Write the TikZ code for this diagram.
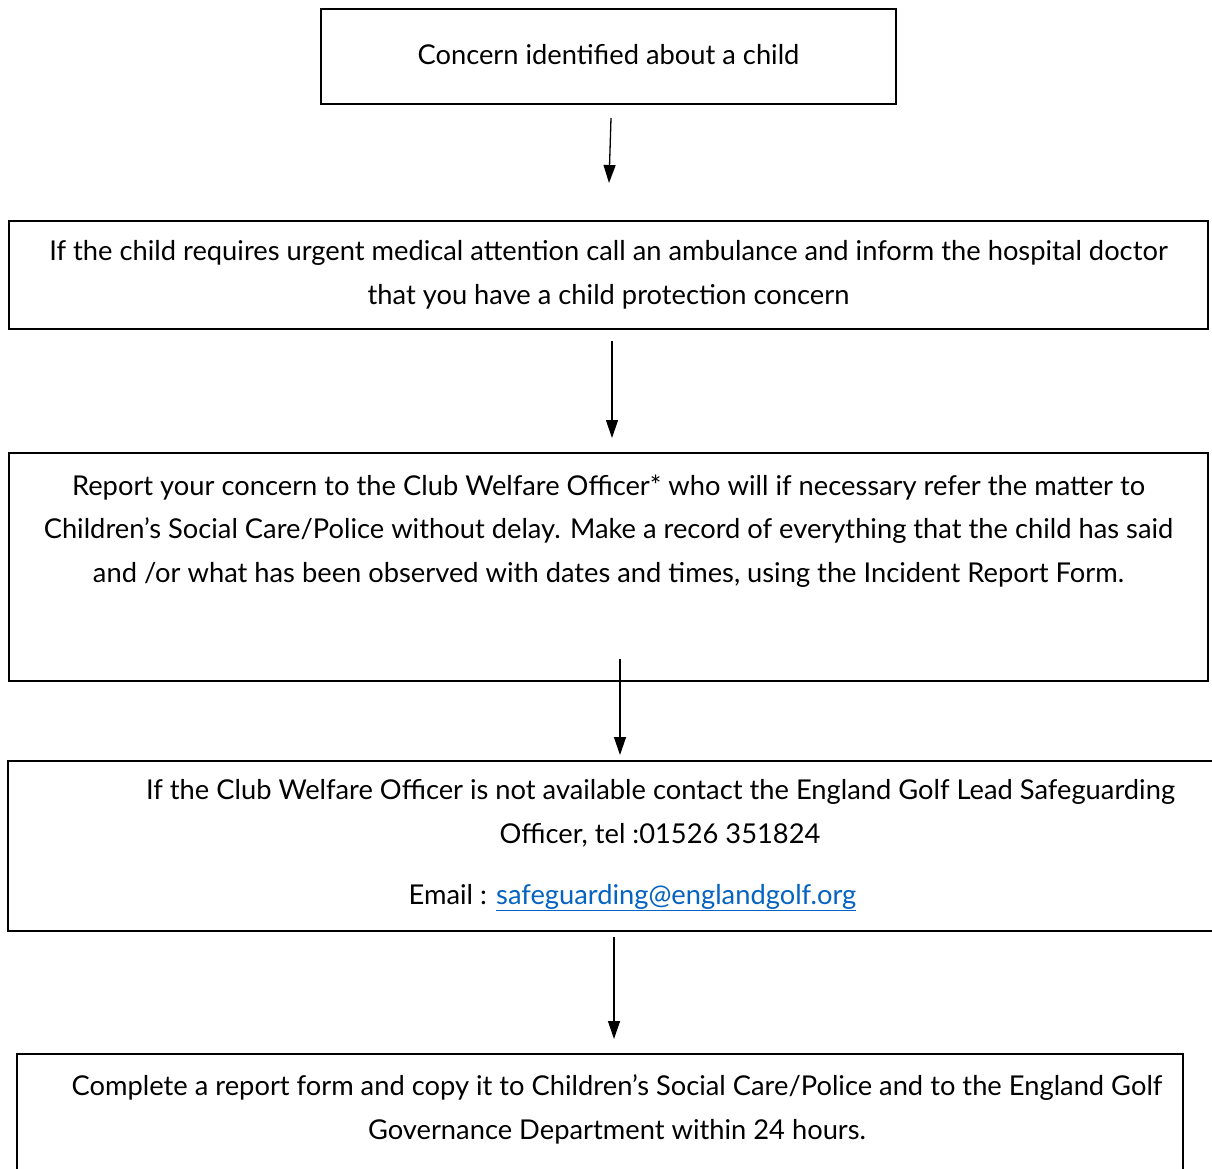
\documentclass[tikz,border=0pt]{standalone}
\usepackage{fontspec}
\setmainfont{Lato}
\usetikzlibrary{arrows.meta}
\definecolor{linkblue}{HTML}{0563C1}
\begin{document}
\begin{tikzpicture}[x=1pt,y=-1pt,
  boxline/.style={draw=black,line width=2.4pt},
  txt/.style={anchor=base,inner sep=0pt,font=\fontsize{27.3}{32}\selectfont},
  flow/.style={draw=black,line width=1.3pt,-{Triangle[length=18pt,width=12pt]}}]
\useasboundingbox (0,0) rectangle (1212,1169);
\fill[white] (0,0) rectangle (1212,1169);
% boxes
\node[boxline,minimum width=575pt,minimum height=95pt,inner sep=0pt] (b1) at (608.5,56.5) {};
\node[boxline,minimum width=1199pt,minimum height=108pt,inner sep=0pt] (b2) at (608.5,275) {};
\node[boxline,minimum width=1199pt,minimum height=228pt,inner sep=0pt] (b3) at (608.5,567) {};
\node[boxline,minimum width=1208pt,minimum height=170pt,inner sep=0pt] (b4) at (612,846) {};
\node[boxline,minimum width=1166pt,minimum height=126pt,inner sep=0pt] (b5) at (600,1117) {};
% texts
\node[txt] (t1) at (608.5,65) {Concern identified about a child};
\node[txt] (t2a) at (608.5,260) {If the child requires urgent medical attention call an ambulance and inform the hospital doctor};
\node[txt] (t2b) at (608.5,304) {that you have a child protection concern};
\node[txt] (t3a) at (608.5,495) {Report your concern to the Club Welfare Officer* who will if necessary refer the matter to};
\node[txt] (t3b) at (608.5,538) {Children’s Social Care/Police without delay. Make a record of everything that the child has said};
\node[txt] (t3c) at (608.5,582) {and /or what has been observed with dates and times, using the Incident Report Form.};
\node[txt] (t4a) at (660.5,799) {If the Club Welfare Officer is not available contact the England Golf Lead Safeguarding};
\node[txt] (t4b) at (660,843) {Officer, tel :01526 351824};
\node[txt] (t4c) at (632.5,904) {Email : \textcolor{linkblue}{\underline{safeguarding@englandgolf.org}}};
\node[txt] (t5a) at (617,1095) {Complete a report form and copy it to Children’s Social Care/Police and to the England Golf};
\node[txt] (t5b) at (617,1139) {Governance Department within 24 hours.};
% arrows
\coordinate (a1s) at (611,118); \coordinate (a1e) at (609,183);
\coordinate (a2s) at (612,341); \coordinate (a2e) at (612,438);
\coordinate (a3s) at (620,659); \coordinate (a3e) at (620,755);
\coordinate (a4s) at (614,937); \coordinate (a4e) at (614,1039);
\draw[flow] (a1s) -- (a1e);
\draw[flow] (a2s) -- (a2e);
\draw[flow] (a3s) -- (a3e);
\draw[flow] (a4s) -- (a4e);
\end{tikzpicture}
\end{document}
